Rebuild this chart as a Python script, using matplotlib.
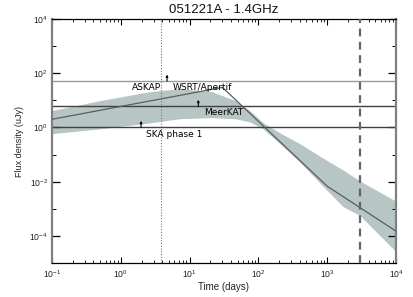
import numpy as np
import matplotlib
matplotlib.use('Agg')
import matplotlib.pyplot as plt
from matplotlib.ticker import FixedLocator, LogFormatterSciNotation, NullFormatter

plt.rcParams['font.family'] = ['Liberation Sans', 'DejaVu Sans']
plt.rcParams['mathtext.default'] = 'regular'

# model light curve (days, uJy)
t_model = [0.1, 30, 1000, 10000]
f_model = [2.0, 30, 0.0068, 0.00015]

# uncertainty band
t_band = [0.1, 0.5, 2.66, 7.2, 21, 46, 75, 117, 206, 402, 869, 1700, 3000, 10000]
f_band_hi = [4.2, 9.8, 21, 27, 21, 9.8, 4.2, 1.5, 0.63, 0.25, 0.074, 0.027, 0.0105, 0.0019]
f_band_lo = [0.59, 0.89, 1.48, 2.1, 2.3, 2.1, 1.6, 0.89, 0.25, 0.052, 0.0068, 0.0012, 0.00056, 0.000026]

# telescope sensitivities (uJy)
tel_names = ['ASKAP', 'MeerKAT', 'SKA phase 1']
tel_flux = [51, 6.0, 1.0]
tel_colors = ['#9a9a9a', '#404040', '#404040']
arrow_t = [4.7, 13.4, 1.97]

t_dotted = 3.9
t_dashed = 3000

fig = plt.figure(figsize=(4.14, 2.97), dpi=100)
ax = fig.add_axes([0.1256, 0.1145, 0.8309, 0.8215])

ax.fill_between(t_band, f_band_lo, f_band_hi, color='#b7c5c5', lw=0, zorder=1)
ax.plot(t_model, f_model, color='#555e60', lw=0.9, zorder=3)

for f, c in zip(tel_flux, tel_colors):
    ax.axhline(f, color=c, lw=1.0, zorder=2)
for t, f in zip(arrow_t, tel_flux):
    ax.annotate('', xy=(t, f * 1.75), xytext=(t, f),
                arrowprops=dict(arrowstyle='-|>', color='black', lw=0.8,
                                mutation_scale=3, shrinkA=0, shrinkB=0))

ax.axvline(t_dotted, color='#777777', lw=0.8, ls=(0, (1, 1.5)), zorder=2)
ax.axvline(t_dashed, color='#666666', lw=1.6, ls=(0, (3.5, 2.5)), zorder=4)

ax.text(1.46, 30, 'ASKAP', fontsize=6.5, va='center', ha='left', family='DejaVu Sans')
ax.text(5.7, 30, 'WSRT/Apertif', fontsize=6.5, va='center', ha='left', family='DejaVu Sans')
ax.text(16.2, 3.5, 'MeerKAT', fontsize=6.5, va='center', ha='left', family='DejaVu Sans')
ax.text(2.3, 0.53, 'SKA phase 1', fontsize=6.5, va='center', ha='left', family='DejaVu Sans')

ax.set_xscale('log')
ax.set_yscale('log')
ax.set_xlim(0.1, 1e4)
ax.set_ylim(1e-5, 1e4)

ax.yaxis.set_major_locator(FixedLocator([1e-4, 1e-2, 1, 1e2, 1e4]))
ax.yaxis.set_minor_locator(FixedLocator([1e-5, 1e-3, 1e-1, 1e1, 1e3]))
ax.yaxis.set_major_formatter(LogFormatterSciNotation())
ax.yaxis.set_minor_formatter(NullFormatter())

ax.tick_params(which='both', direction='in', top=True, right=True, labelsize=6.2,
               colors='black', labelcolor='#222222')
ax.tick_params(axis='y', which='major', length=6, width=0.9, pad=3)
ax.tick_params(axis='y', which='minor', length=3, width=0.7)
ax.tick_params(axis='x', which='major', length=4, width=0.8, pad=4)
ax.tick_params(axis='x', which='minor', length=2, width=0.6)

for s in ['left', 'right']:
    ax.spines[s].set_color('#808080')
    ax.spines[s].set_linewidth(1.6)
for s in ['top', 'bottom']:
    ax.spines[s].set_color('black')
    ax.spines[s].set_linewidth(0.9)

ax.set_title('051221A - 1.4GHz', fontsize=9.5, pad=4, color='#111111')
ax.set_xlabel('Time (days)', fontsize=7, labelpad=1, color='#222222')
ax.set_ylabel('Flux density (uJy)', fontsize=6.5, labelpad=4, color='#222222')

fig.savefig('out.png', dpi=100)
